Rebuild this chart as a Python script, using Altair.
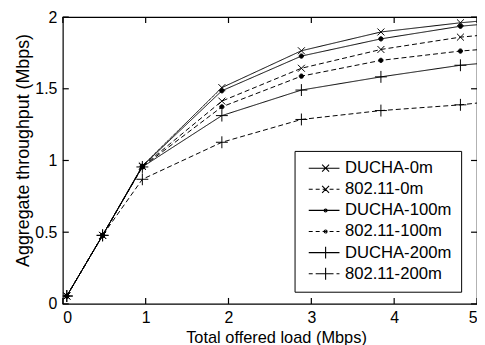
import altair as alt
import pandas as pd
import re

# ---- data ----
x_vals = [0.048, 0.48, 0.96, 1.92, 2.88, 3.84, 4.8, 5.76]
series = ["DUCHA-0m", "802.11-0m", "DUCHA-100m", "802.11-100m", "DUCHA-200m", "802.11-200m"]
ducha_0m    = [0.055, 0.478, 0.962, 1.508, 1.765, 1.896, 1.960, 2.010]
ieee_0m     = [0.055, 0.478, 0.958, 1.414, 1.643, 1.774, 1.860, 1.910]
ducha_100m  = [0.055, 0.478, 0.960, 1.486, 1.728, 1.848, 1.936, 1.986]
ieee_100m   = [0.055, 0.478, 0.955, 1.374, 1.588, 1.698, 1.763, 1.806]
ducha_200m  = [0.055, 0.478, 0.955, 1.313, 1.491, 1.583, 1.664, 1.714]
ieee_200m   = [0.055, 0.478, 0.869, 1.127, 1.286, 1.348, 1.388, 1.448]
x_ticks = [0, 1, 2, 3, 4, 5]
y_ticks = [0, 0.5, 1, 1.5, 2]

values = [ducha_0m, ieee_0m, ducha_100m, ieee_100m, ducha_200m, ieee_200m]
rows = []
for name, ys in zip(series, values):
    for xv, yv in zip(x_vals, ys):
        rows.append({"series": name, "x": xv, "y": yv})
df = pd.DataFrame(rows)
xt_df = pd.DataFrame({"v": x_ticks})
yt_df = pd.DataFrame({"v": y_ticks})

# ---- styles ----
FONT = "Liberation Sans"
U = 3.0  # px per path unit for symbol size 36
W, H = 417.7, 289.3
TICK = 6

cross = "M-1.17,-1.17L1.17,1.17M-1.17,1.17L1.17,-1.17"
dot = "M-0.72,0A0.72,0.72,0,1,1,0.72,0A0.72,0.72,0,1,1,-0.72,0Z"
plus = "M-2,0L2,0M0,-2L0,2"
dot_small = "M-0.5,0A0.5,0.5,0,1,1,0.5,0A0.5,0.5,0,1,1,-0.5,0Z"

def shift(path, dx):
    out = []
    tokens = re.findall(r"[MLAZ]|-?\d+\.?\d*", path)
    i = 0
    while i < len(tokens):
        t = tokens[i]
        out.append(t)
        i += 1
        if t == "Z":
            continue
        if t in "ML":
            out.append(f"{float(tokens[i]) + dx:.2f},{tokens[i + 1]}")
            i += 2
        elif t == "A":
            rx, ry, rot, la, sw, x, y = tokens[i:i + 7]
            out.append(f"{rx},{ry},{rot},{la},{sw},{float(x) + dx:.2f},{y}")
            i += 7
    return "".join(out)

L0, L1 = -1.03, 9.3      # legend line extent, path units
MK = L0 + 17.0 / U       # legend marker centre

def line_path(dashed):
    if not dashed:
        return f"M{L0},0L{L1},0"
    segs = []
    p = 0.0
    total = (L1 - L0) * U
    while p < total:
        a = L0 + p / U
        b = L0 + min(p + 4, total) / U
        segs.append(f"M{a:.2f},0L{b:.2f},0")
        p += 7
    return "".join(segs)

markers = [cross, cross, dot, dot, plus, plus]
legend_markers = [cross, cross, dot_small, dot_small, plus, plus]
dashed = [False, True, False, True, False, True]
legend_paths = [line_path(d) + shift(m, MK) for m, d in zip(legend_markers, dashed)]
dash_range = [[1, 0] if not d else [5, 3] for d in dashed]

xs = alt.Scale(domain=[0, 5], nice=False, zero=False)
ys = alt.Scale(domain=[0, 2], nice=False, zero=False)

common = dict(grid=False, domain=False, ticks=False,
              labelFont=FONT, labelFontSize=16, labelColor="black",
              titleFont=FONT, titleColor="black", titleFontWeight="normal")

base = alt.Chart(df)

lines = base.mark_line(color="black", strokeWidth=1, clip=True).encode(
    x=alt.X("x:Q", scale=xs, axis=alt.Axis(orient="bottom", values=x_ticks,
            title="Total offered load (Mbps)", labelPadding=6, titleFontSize=16.5,
            titleBaseline="alphabetic", titleX=215, titleY=38.5, **common)),
    y=alt.Y("y:Q", scale=ys, axis=alt.Axis(orient="left", values=y_ticks, format="~g",
            title="Aggregate throughput (Mbps)", labelPadding=6, titleFontSize=18,
            titleBaseline="bottom", titleX=-31, titleY=134, titleAngle=-90, **common)),
    strokeDash=alt.StrokeDash("series:N", scale=alt.Scale(domain=series, range=dash_range),
                              legend=None),
    order="x:Q",
)

points = base.transform_filter("datum.x <= 5").mark_point(
    filled=True, fill="black", stroke="black", strokeWidth=1, opacity=1, size=36, clip=True
).encode(
    x=alt.X("x:Q", scale=xs, axis=None),
    y=alt.Y("y:Q", scale=ys, axis=None),
    shape=alt.Shape("series:N", scale=alt.Scale(domain=series, range=markers), legend=None),
)

# inward ticks on all four sides, placed through the scales
tick_style = dict(color="black", strokeWidth=1.2)
xt = alt.Chart(xt_df)
yt = alt.Chart(yt_df)
ticks_bottom = xt.mark_rule(**tick_style).encode(
    x=alt.X("v:Q", scale=xs, axis=None), y=alt.value(H), y2=alt.value(H - TICK))
ticks_top = xt.mark_rule(**tick_style).encode(
    x=alt.X("v:Q", scale=xs, axis=None), y=alt.value(0), y2=alt.value(TICK))
ticks_left = yt.mark_rule(**tick_style).encode(
    y=alt.Y("v:Q", scale=ys, axis=None), x=alt.value(0), x2=alt.value(TICK))
ticks_right = yt.mark_rule(**tick_style).encode(
    y=alt.Y("v:Q", scale=ys, axis=None), x=alt.value(W), x2=alt.value(W - TICK))

legend_layer = base.transform_filter("datum.x > 1000").mark_point(
    filled=False, color="black", strokeWidth=1, opacity=1, size=36
).encode(
    shape=alt.Shape("series:N", scale=alt.Scale(domain=series, range=legend_paths),
                    legend=alt.Legend(title=None, orient="none", legendX=233.7, legendY=135,
                                      padding=9, strokeColor="black", fillColor="white",
                                      labelFont=FONT, labelFontSize=16.8, labelColor="black",
                                      labelOffset=25, rowPadding=3.3, symbolSize=36,
                                      labelLimit=300, symbolStrokeColor="black",
                                      symbolStrokeWidth=1.1)),
)

chart = alt.layer(
    lines, points, ticks_bottom, ticks_top, ticks_left, ticks_right, legend_layer
).resolve_scale(
    shape="independent"
).resolve_axis(x="independent", y="independent").resolve_legend(
    shape="independent"
).properties(
    width=W, height=H,
    padding={"left": 55.3, "top": 7.7, "right": 0, "bottom": 40},
    autosize=alt.AutoSizeParams(type="none"),
    background="white",
).configure_view(stroke="black", strokeWidth=1.2)

chart.save("out.html", embed_options={"renderer": "svg", "actions": False})
